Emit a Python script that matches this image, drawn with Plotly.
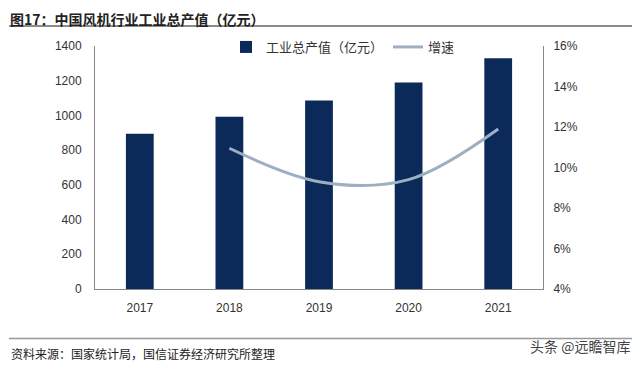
import plotly.graph_objects as go

years = ["2017", "2018", "2019", "2020", "2021"]
output_value = [895, 993, 1086, 1190, 1330]
growth_years = ["2018", "2019", "2020", "2021"]
growth_pct = [10.95, 9.3, 9.4, 11.9]

# page body has an 8px margin; lay out in reference pixel coords, offset by 8
OFF = 8
W, H = 640 - OFF, 367 - OFF
L = 95 - OFF
T = 46 - OFF
R = W - (543 - OFF)
B = H - (289.5 - OFF)
pw, ph = W - L - R, H - T - B

def px(x):
    return (x - OFF - L) / pw

def py(y):
    return (H - B - (y - OFF)) / ph

font_cjk = "Noto Sans CJK SC, Liberation Sans, Arial, sans-serif"
font_num = "Liberation Sans, Arial, sans-serif"

fig = go.Figure()
fig.add_trace(go.Bar(
    x=years, y=output_value, name="工业总产值（亿元）",
    marker=dict(color="#0b2a5a", line=dict(width=0)), width=0.31,
))
fig.add_trace(go.Scatter(
    x=growth_years, y=growth_pct, name="增速", yaxis="y2", mode="lines",
    line=dict(color="#9eafc2", width=3, shape="spline", smoothing=1.0),
))

fig.update_layout(
    width=W, height=H,
    margin=dict(l=L, r=R, t=T, b=B),
    paper_bgcolor="white", plot_bgcolor="white",
    showlegend=True,
    legend=dict(orientation="h", x=px(343), xanchor="center", y=py(47), yanchor="middle",
                font=dict(family=font_cjk, size=13, color="#333"),
                bgcolor="rgba(0,0,0,0)", itemwidth=30, tracegroupgap=0),
    xaxis=dict(showline=True, linecolor="#888", linewidth=1, ticks="", ticklabelstandoff=8,
               tickfont=dict(family=font_num, size=12, color="#333"), showgrid=False),
    yaxis=dict(range=[0, 1400], dtick=200, showline=True, linecolor="#888", linewidth=1,
               showgrid=False, zeroline=False, ticks="", ticklabelstandoff=10,
               tickfont=dict(family=font_num, size=12, color="#333")),
    yaxis2=dict(range=[4, 16], dtick=2, ticksuffix="%", overlaying="y", side="right",
                showline=True, linecolor="#888", linewidth=1, showgrid=False, zeroline=False,
                ticks="", ticklabelstandoff=7,
                tickfont=dict(family=font_num, size=12, color="#333")),
    bargap=0.69,
    annotations=[
        dict(text="<b>图17：中国风机行业工业总产值（亿元）</b>", xref="paper", yref="paper",
             x=px(9), y=py(8), xanchor="left", yanchor="top", showarrow=False, borderpad=0,
             font=dict(family=font_cjk, size=14, color="#222")),
        dict(text="资料来源：国家统计局，国信证券经济研究所整理", xref="paper", yref="paper",
             x=px(9), y=py(354), xanchor="left", yanchor="middle", showarrow=False,
             font=dict(family=font_cjk, size=12, color="#222")),
        dict(text="头条 @远瞻智库", xref="paper", yref="paper",
             x=px(632), y=py(347), xanchor="right", yanchor="middle", showarrow=False,
             font=dict(family=font_cjk, size=14, color="#444")),
    ],
    shapes=[
        dict(type="line", xref="paper", yref="paper", x0=px(9), x1=px(632), y0=py(26), y1=py(26),
             line=dict(color="#666", width=1.5)),
        dict(type="line", xref="paper", yref="paper", x0=px(9), x1=px(632), y0=py(339), y1=py(339),
             line=dict(color="#999", width=1.5)),
    ],
)

fig.write_html("out.html")
